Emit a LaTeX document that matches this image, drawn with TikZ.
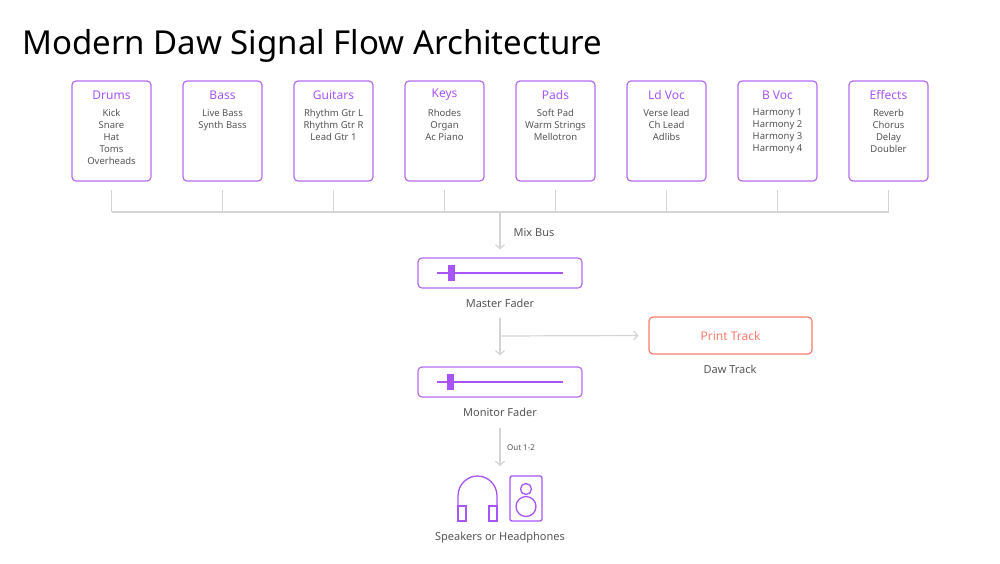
\documentclass[tikz,border=0pt]{standalone}
\usepackage{fontspec}
\setmainfont{Noto Sans}
\usetikzlibrary{arrows.meta}
\definecolor{pur}{HTML}{B36BF0}
\definecolor{purd}{HTML}{A855F7}
\definecolor{gr}{HTML}{D4D4D4}
\definecolor{tx}{HTML}{555555}
\definecolor{org}{HTML}{F87C6C}
\tikzset{
 every node/.style={inner sep=0pt},
 box/.style={draw=pur,line width=1.2pt,rounded corners=4pt,minimum width=79pt,minimum height=100pt},
 hd/.style={text=purd,font=\fontsize{12}{14}\selectfont},
 it/.style={text=tx,font=\fontsize{9.5}{12}\selectfont,align=center,anchor=north},
 wire/.style={draw=gr,line width=1.2pt},
 arr/.style={wire,-{Straight Barb[length=4pt,width=9pt]}},
 lbl/.style={text=tx,font=\fontsize{11}{13}\selectfont},
 fader/.style={draw=pur,line width=1.2pt,rounded corners=4pt,minimum width=164pt,minimum height=30pt},
}
\begin{document}
\begin{tikzpicture}[x=1pt,y=-1pt]
\useasboundingbox (0,0) rectangle (1000,563);
\node[anchor=west,font=\fontsize{33}{36}\selectfont] (title) at (22,46) {Modern Daw Signal Flow Architecture};
\foreach \i/\h/\t in {0/Drums/{Kick\\Snare\\Hat\\Toms\\Overheads},1/Bass/{Live Bass\\Synth Bass},2/Guitars/{Rhythm Gtr L\\Rhythm Gtr R\\Lead Gtr 1},3/Keys/{Rhodes\\Organ\\Ac Piano},4/Pads/{Soft Pad\\Warm Strings\\Mellotron},5/Ld Voc/{Verse lead\\Ch Lead\\Adlibs},6/B Voc/{Harmony 1\\Harmony 2\\Harmony 3\\Harmony 4},7/Effects/{Reverb\\Chorus\\Delay\\Doubler}}{
 \node[box] (b\i) at ({111.5+111*\i},131) {};
 \node[hd] (h\i) at ({111.5+111*\i},95) {\h};
 \node[it] (t\i) at ({111.5+111*\i},109) {\t};
 \coordinate (c\i) at ({111.5+111*\i},212);
 \draw[wire] ([yshift=-8pt]b\i.south) -- (c\i);
}
\draw[wire] (c0) -- (c7);
\coordinate (bus) at (500,212);
\node[fader] (mf) at (500,273) {};
\draw[arr] (bus) -- ([yshift=8pt]mf.north);
\node[lbl] (mix) at (534,232) {Mix Bus};
\draw[purd,line width=1.5pt] (437,273) -- (563,273);
\fill[purd] (448,265) rectangle (455,281);
\node[lbl] (mfl) at (500,303) {Master Fader};
\node[fader] (mon) at (500,382) {};
\draw[purd,line width=1.5pt] (437,382) -- (563,382);
\fill[purd] (447,374) rectangle (454,390);
\node[lbl] (monl) at (500,412) {Monitor Fader};
\node[draw=org,line width=1.2pt,rounded corners=4pt,minimum width=163pt,minimum height=37pt,text=org,font=\fontsize{12}{14}\selectfont] (pt) at (730.5,335.5) {Print Track};
\node[lbl] (dt) at (730,369) {Daw Track};
\coordinate (s1) at (500,318);
\coordinate (j) at (500,336);
\draw[arr] (s1) -- ([yshift=11pt]mon.north);
\draw[arr] (j) -- ([xshift=-10pt]pt.west);
\coordinate (s2) at (500,428);
\coordinate (e2) at (500,466);
\draw[arr] (s2) -- (e2);
\node[text=tx,font=\fontsize{8}{10}\selectfont] (out) at (521,448) {Out 1-2};
\begin{scope}[draw=purd,line width=1.3pt]
 \draw (458,506) -- (458,496) arc[start angle=180,end angle=0,x radius=19.5,y radius=-20] -- (497,506);
 \draw (458,506) rectangle (466,521);
 \draw (489,506) rectangle (497,521);
 \draw[rounded corners=2pt] (510,476) rectangle (542,521);
 \draw (526,489) circle (5.5);
 \draw (526,506.5) circle (10);
\end{scope}
\node[lbl] (spk) at (500,538) {Speakers or Headphones};
\end{tikzpicture}
\end{document}
